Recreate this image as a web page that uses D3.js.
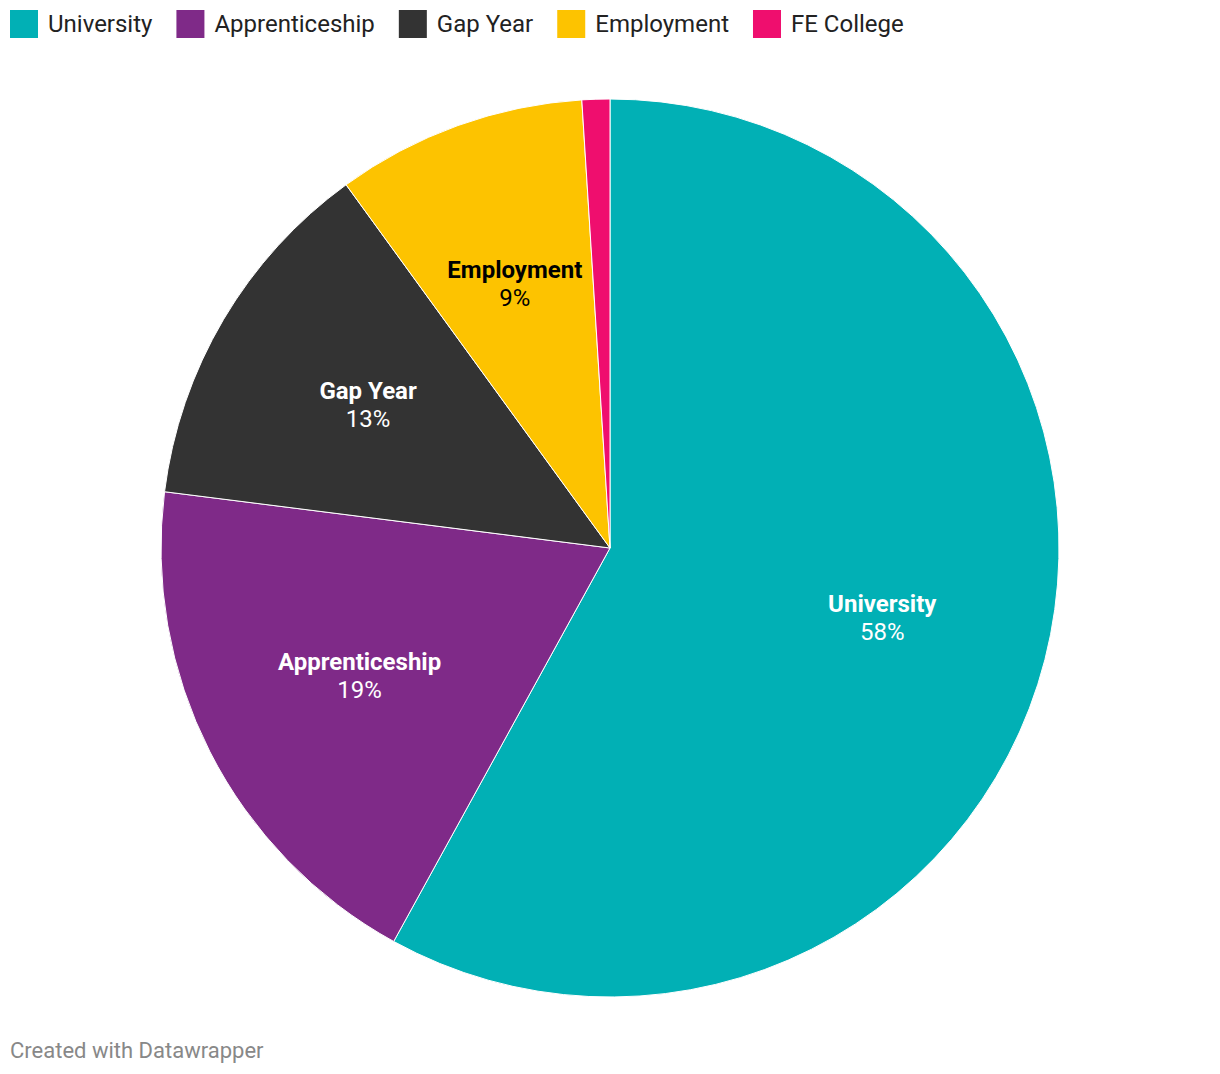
<!DOCTYPE html>
<html><head><meta charset="utf-8">
<script src="https://cdn.jsdelivr.net/npm/d3@7"></script>
<style>
html,body{margin:0;padding:0;background:#fff;}
svg{display:block;font-family:Roboto,"Noto Sans",sans-serif;}
</style></head>
<body>
<svg id="chart" width="1220" height="1074"></svg>
<script>
const categories = ["University","Apprenticeship","Gap Year","Employment","FE College"];
const values = [58,19,13,9,1];
const colors = ["#01b0b5","#7f2a88","#333333","#fdc300","#ef0e6e"];
const labelTextColors = ["#ffffff","#ffffff","#ffffff","#000000","#ffffff"];
const showLabel = [true,true,true,true,false];

const svg = d3.select("#chart");
const cx = 610, cy = 548, R = 449;

// legend
const legend = svg.append("g");
let x = 10;
categories.forEach((c,i)=>{
  const g = legend.append("g").attr("transform",`translate(${x},10)`);
  g.append("rect").attr("width",28).attr("height",28).attr("fill",colors[i]);
  const t = g.append("text").attr("x",38).attr("y",21.5).attr("font-size",24)
    .attr("fill","#222").text(c);
  const w = t.node().getComputedTextLength();
  x += 38 + w + 24;
});

const pie = d3.pie().sort(null).value(d=>d.v)
  .startAngle(0).endAngle(2*Math.PI);
const data = pie(categories.map((c,i)=>({c, v:values[i], i})));
const arc = d3.arc().innerRadius(0).outerRadius(R);
const labelArc = d3.arc().innerRadius(R*0.626).outerRadius(R*0.626);

const g = svg.append("g").attr("transform",`translate(${cx},${cy})`);
g.selectAll("path").data(data).join("path")
  .attr("d",arc).attr("fill",d=>colors[d.data.i])
  .attr("stroke","#fff").attr("stroke-width",1);

const lab = g.selectAll("g.lab").data(data.filter(d=>showLabel[d.data.i])).join("g")
  .attr("class","lab")
  .attr("transform",d=>`translate(${labelArc.centroid(d)})`);
lab.append("text").attr("text-anchor","middle").attr("y",-5.5)
  .attr("font-size",24).attr("font-weight","bold")
  .attr("fill",d=>labelTextColors[d.data.i]).text(d=>d.data.c);
lab.append("text").attr("text-anchor","middle").attr("y",22.5)
  .attr("font-size",24)
  .attr("fill",d=>labelTextColors[d.data.i]).text(d=>d.data.v+"%");

svg.append("text").attr("x",10).attr("y",1058).attr("font-size",22)
  .attr("fill","#888").text("Created with Datawrapper");
</script>
</body></html>
